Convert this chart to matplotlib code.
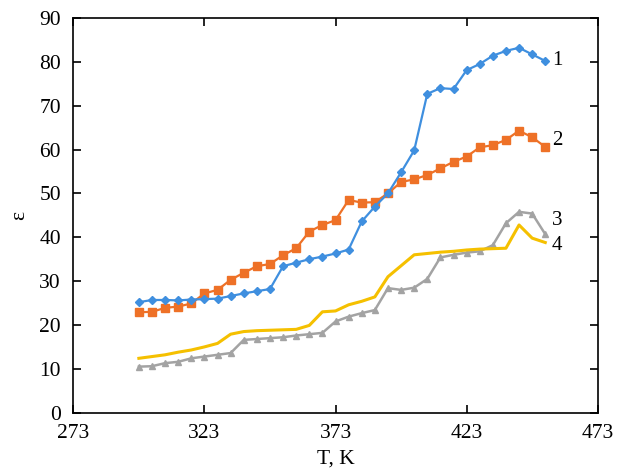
import matplotlib
matplotlib.use("Agg")
import matplotlib.pyplot as plt
import numpy as np

T = [298, 303, 308, 313, 318, 323, 328, 333, 338, 343, 348, 353, 358, 363, 368, 373,
     378, 383, 388, 393, 398, 403, 408, 413, 418, 423, 428, 433, 438, 443, 448, 453]

eps1 = [25.2, 25.7, 25.7, 25.6, 25.8, 25.9, 26.0, 26.6, 27.2, 27.7, 28.2, 33.4, 34.2, 35.0, 35.6, 36.3,
        37.2, 43.6, 47.0, 50.0, 54.8, 59.8, 72.7, 74.0, 73.8, 78.1, 79.5, 81.4, 82.5, 83.2, 81.7, 80.2]
eps2 = [22.9, 23.0, 23.9, 24.2, 24.9, 27.2, 28.0, 30.3, 31.9, 33.4, 33.9, 35.9, 37.5, 41.3, 42.8, 43.9,
        48.5, 47.9, 48.0, 50.0, 52.6, 53.2, 54.2, 55.7, 57.2, 58.4, 60.5, 61.0, 62.2, 64.3, 62.8, 60.6]
eps3 = [10.5, 10.6, 11.3, 11.6, 12.4, 12.8, 13.2, 13.6, 16.6, 16.8, 17.0, 17.2, 17.6, 17.9, 18.2, 20.8,
        21.9, 22.7, 23.4, 28.4, 28.0, 28.5, 30.5, 35.4, 36.0, 36.5, 36.8, 38.2, 43.2, 45.8, 45.4, 40.7]
eps4 = [12.4, 12.8, 13.2, 13.8, 14.3, 15.0, 15.8, 17.9, 18.5, 18.7, 18.8, 18.9, 19.0, 19.9, 23.0, 23.2,
        24.6, 25.4, 26.4, 31.0, 33.5, 36.0, 36.3, 36.6, 36.8, 37.1, 37.3, 37.4, 37.5, 42.8, 39.8, 38.8]

curve_labels = ["1", "2", "3", "4"]
label_y = [80.4, 62.0, 43.9, 38.2]

x_ticks = [273, 323, 373, 423, 473]
y_ticks = [0, 10, 20, 30, 40, 50, 60, 70, 80, 90]

plt.rcParams['font.family'] = ['Liberation Serif', 'DejaVu Serif']

fig = plt.figure(figsize=(6.23, 4.73), dpi=100)
ax = fig.add_axes([0.1177, 0.1275, 0.9594 - 0.1177, 0.962 - 0.1275])

ax.plot(T, eps1, color='#3f8fdf', lw=1.6, marker='D', ms=4.0, zorder=4)
ax.plot(T, eps2, color='#ee7127', lw=1.6, marker='s', ms=6.0, zorder=3)
ax.plot(T, eps3, color='#a3a3a3', lw=1.8, marker='^', ms=4.5, zorder=2)
ax.plot(T, eps4, color='#f5c000', lw=2.2, zorder=2.5)

for lab, yv in zip(curve_labels, label_y):
    ax.text(455.5, yv, lab, fontsize=15, ha='left', va='center')

ax.set_xlim(273, 473)
ax.set_ylim(0, 90)
ax.set_xticks(x_ticks)
ax.set_yticks(y_ticks)
ax.tick_params(direction='in', length=6, width=1.2, top=True, right=True,
               labelsize=15.5)
ax.tick_params(axis='x', pad=8)
ax.tick_params(axis='y', pad=9)
for s in ax.spines.values():
    s.set_linewidth(1.2)

ax.set_xlabel("T, K", fontsize=15.5, labelpad=5)
ax.set_ylabel("ε", fontsize=15.5, labelpad=7)

fig.savefig("out.png", dpi=100)
